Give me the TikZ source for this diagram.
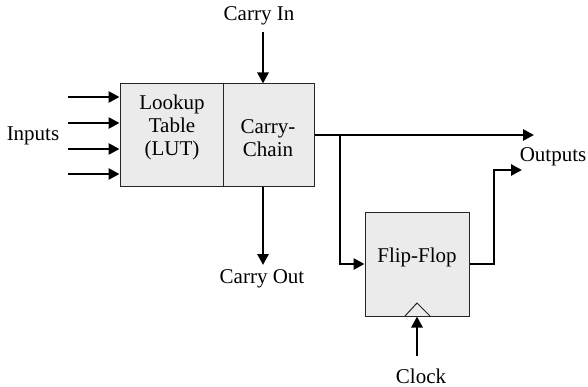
\documentclass[tikz,border=0pt]{standalone}
\usepackage{fontspec}
\setmainfont{Liberation Serif}
\usetikzlibrary{arrows.meta}
\definecolor{boxfill}{HTML}{EBEBEB}
\tikzset{
  blk/.style={draw=black!85, line width=1pt, fill=boxfill, inner sep=0pt, minimum height=103pt},
  lbl/.style={font=\fontsize{21}{23}\selectfont, inner sep=0pt, align=center},
  wire/.style={line width=2.8pt, -{Triangle[length=11pt,width=11pt]}},
  plain/.style={line width=2.8pt}
}
\begin{document}
\begin{tikzpicture}[x=1pt,y=-1pt]
\useasboundingbox (0,0) rectangle (588,387);
% blocks
\node[blk, minimum width=103pt] (lut) at (171.5,135.5) {};
\node[blk, minimum width=91pt] (chain) at (268.5,135.5) {};
\node[blk, minimum width=104pt] (ff) at (417,264.5) {};
% block texts
\node[lbl] (luttext) at (172,127) {Lookup\\Table\\(LUT)};
\node[lbl] (chaintext) at (268,138) {Carry-\\Chain};
\node[lbl] (fftext) at (417,257) {Flip-Flop};
% clock triangle
\coordinate (ckl) at (405,316);
\coordinate (ckt) at (417,303);
\coordinate (ckr) at (430,316);
\draw[line width=1pt, black!85] (ckl) -- (ckt) -- (ckr);
% labels
\node[lbl] (inputs) at (33,136) {Inputs};
\node[lbl] (cin) at (259,16) {Carry In};
\node[lbl] (cout) at (262,279) {Carry Out};
\node[lbl] (outs) at (553,157) {Outputs};
\node[lbl] (clk) at (421,376) {Clock};
% inputs
\coordinate (i1) at (68,97);
\coordinate (i2) at (68,123);
\coordinate (i3) at (68,149);
\coordinate (i4) at (68,174);
\foreach \i in {i1,i2,i3,i4} \draw[wire] (\i) -- (lut.west |- \i);
% carry in / out
\coordinate (cins) at (263,32);
\draw[wire] (cins) -- (cins |- chain.north);
\coordinate (couts) at (263,265);
\draw[wire] (couts |- chain.south) -- (couts);
% outputs
\coordinate (o1) at (534,135);
\coordinate (br) at (340,135);
\draw[wire] (chain.east |- o1) -- (o1);
\draw[wire] (br) |- (ff.west |- 0,264);
\coordinate (o2) at (522,170);
\coordinate (bend) at (494,264);
\draw[wire] (ff.east |- bend) -- (bend) |- (o2);
% clock
\coordinate (clks) at (417,356);
\draw[wire] (clks) -- (clks |- ff.south);
\end{tikzpicture}
\end{document}
